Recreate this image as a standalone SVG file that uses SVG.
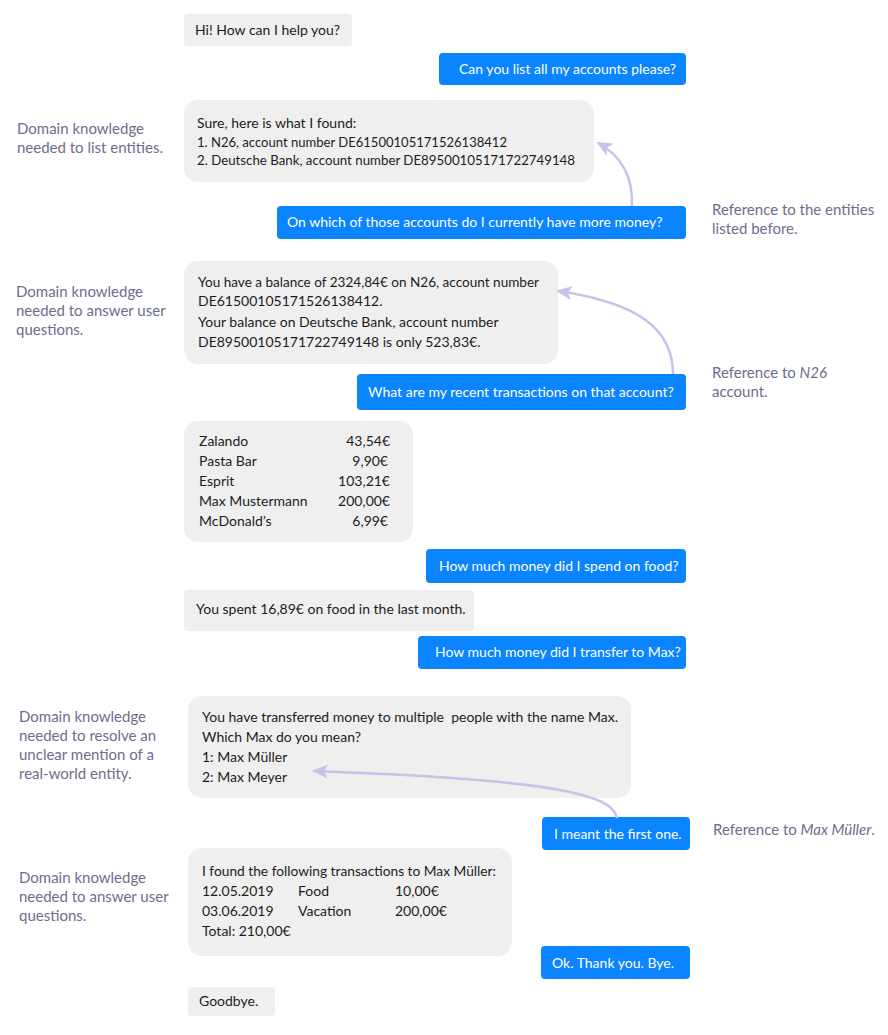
<svg xmlns="http://www.w3.org/2000/svg" width="888" height="1035" viewBox="0 0 888 1035">
<style>
.bot{fill:#efefef}
.usr{fill:#0a84ff}
.bt{font-family:Lato,"Liberation Sans",sans-serif;font-size:14px;fill:#1c1c1c}
.ut{font-family:Lato,"Liberation Sans",sans-serif;font-size:14px;fill:#ffffff}
.an{font-family:Lato,"Liberation Sans",sans-serif;font-size:15px;fill:#6e6d8c}
.cn{fill:none;stroke:#c8c1ea;stroke-width:2.5}
</style>
<defs>
<marker id="ah" markerUnits="userSpaceOnUse" markerWidth="16" markerHeight="14" refX="14" refY="7" orient="auto">
<path d="M0,0 L16,7 L0,14 L4,7 Z" fill="#c8c1ea"/>
</marker>
</defs>
<rect width="888" height="1035" fill="#ffffff"/>

<g id="m1"><rect class="bot" x="184" y="14" width="168" height="32" rx="4"/><text class="bt" x="195" y="35">Hi! How can I help you?</text></g>
<g id="m2"><rect class="usr" x="439" y="53" width="247" height="32" rx="4"/><text class="ut" x="459" y="74">Can you list all my accounts please?</text></g>
<g id="a1"><text class="an" x="17" y="134">Domain knowledge</text><text class="an" x="17" y="153">needed to list entities.</text></g>
<g id="m3"><rect class="bot" x="184" y="100" width="410" height="82" rx="14"/>
<text class="bt" x="197" y="128">Sure, here is what I found:</text>
<text class="bt" x="197" y="147" textLength="310" lengthAdjust="spacingAndGlyphs">1. N26, account number DE61500105171526138412</text>
<text class="bt" x="197" y="165" textLength="378" lengthAdjust="spacingAndGlyphs">2. Deutsche Bank, account number DE89500105171722749148</text></g>
<g id="m4"><rect class="usr" x="277" y="206" width="409" height="33" rx="4"/><text class="ut" x="287" y="227">On which of those accounts do I currently have more money?</text></g>
<g id="a2"><text class="an" x="712" y="215">Reference to the entities</text><text class="an" x="712" y="234">listed before.</text></g>

<g id="a3"><text class="an" x="16" y="297">Domain knowledge</text><text class="an" x="16" y="316">needed to answer user</text><text class="an" x="16" y="335">questions.</text></g>
<g id="m5"><rect class="bot" x="184" y="261" width="374" height="103" rx="14"/>
<text class="bt" x="198" y="287" textLength="341" lengthAdjust="spacingAndGlyphs">You have a balance of 2324,84€ on N26, account number</text>
<text class="bt" x="198" y="306">DE61500105171526138412.</text>
<text class="bt" x="198" y="327">Your balance on Deutsche Bank, account number</text>
<text class="bt" x="198" y="347">DE89500105171722749148 is only 523,83€.</text></g>
<g id="m6"><rect class="usr" x="357" y="374" width="329" height="36" rx="4"/><text class="ut" x="368" y="397">What are my recent transactions on that account?</text></g>
<g id="a4"><text class="an" x="712" y="378">Reference to <tspan font-style="italic">N26</tspan></text><text class="an" x="712" y="397">account.</text></g>

<g id="m7"><rect class="bot" x="184" y="421" width="229" height="121" rx="14"/>
<text class="bt" x="199" y="446">Zalando</text><text class="bt" x="390" y="446" text-anchor="end">43,54€</text>
<text class="bt" x="199" y="466">Pasta Bar</text><text class="bt" x="388" y="466" text-anchor="end">9,90€</text>
<text class="bt" x="199" y="486">Esprit</text><text class="bt" x="390" y="486" text-anchor="end">103,21€</text>
<text class="bt" x="199" y="506">Max Mustermann</text><text class="bt" x="390" y="506" text-anchor="end">200,00€</text>
<text class="bt" x="199" y="526">McDonald’s</text><text class="bt" x="388" y="526" text-anchor="end">6,99€</text></g>
<g id="m8"><rect class="usr" x="426" y="549" width="260" height="34" rx="4"/><text class="ut" x="439" y="571">How much money did I spend on food?</text></g>
<g id="m9"><rect class="bot" x="184" y="590" width="290" height="41" rx="4"/><text class="bt" x="196" y="614">You spent 16,89€ on food in the last month.</text></g>
<g id="m10"><rect class="usr" x="418" y="636" width="268" height="33" rx="4"/><text class="ut" x="435" y="657">How much money did I transfer to Max?</text></g>

<g id="a5"><text class="an" x="19" y="722">Domain knowledge</text><text class="an" x="19" y="741">needed to resolve an</text><text class="an" x="19" y="760">unclear mention of a</text><text class="an" x="19" y="779">real-world entity.</text></g>
<g id="m11"><rect class="bot" x="188" y="696" width="443" height="102" rx="14"/>
<text class="bt" x="202" y="722" xml:space="preserve">You have transferred money to multiple  people with the name Max.</text>
<text class="bt" x="202" y="742">Which Max do you mean?</text>
<text class="bt" x="202" y="762">1: Max Müller</text>
<text class="bt" x="202" y="782">2: Max Meyer</text></g>
<g id="m12"><rect class="usr" x="542" y="817" width="148" height="33" rx="4"/><text class="ut" x="554" y="839">I meant the first one.</text></g>
<g id="a6"><text class="an" x="713" y="835">Reference to <tspan font-style="italic">Max Müller</tspan>.</text></g>

<g id="a7"><text class="an" x="19" y="883">Domain knowledge</text><text class="an" x="19" y="902">needed to answer user</text><text class="an" x="19" y="921">questions.</text></g>
<g id="m13"><rect class="bot" x="188" y="848" width="324" height="108" rx="14"/>
<text class="bt" x="202" y="876" textLength="294" lengthAdjust="spacingAndGlyphs">I found the following transactions to Max Müller:</text>
<text class="bt" x="202" y="896">12.05.2019</text><text class="bt" x="298" y="896">Food</text><text class="bt" x="395" y="896">10,00€</text>
<text class="bt" x="202" y="916">03.06.2019</text><text class="bt" x="298" y="916">Vacation</text><text class="bt" x="395" y="916">200,00€</text>
<text class="bt" x="202" y="936">Total: 210,00€</text></g>
<g id="m14"><rect class="usr" x="541" y="946" width="149" height="33" rx="4"/><text class="ut" x="552" y="968">Ok. Thank you. Bye.</text></g>
<g id="m15"><rect class="bot" x="188" y="987" width="87" height="29" rx="4"/><text class="bt" x="199" y="1006">Goodbye.</text></g>

<g id="connectors">
<path class="cn" d="M632,206 C633,178 622,156 598,143" marker-end="url(#ah)"/>
<path class="cn" d="M673,374 C673,330 640,303 558,291" marker-end="url(#ah)"/>
<path class="cn" d="M617,818 C612,795 560,780 314,771" marker-end="url(#ah)"/>
</g>
</svg>
